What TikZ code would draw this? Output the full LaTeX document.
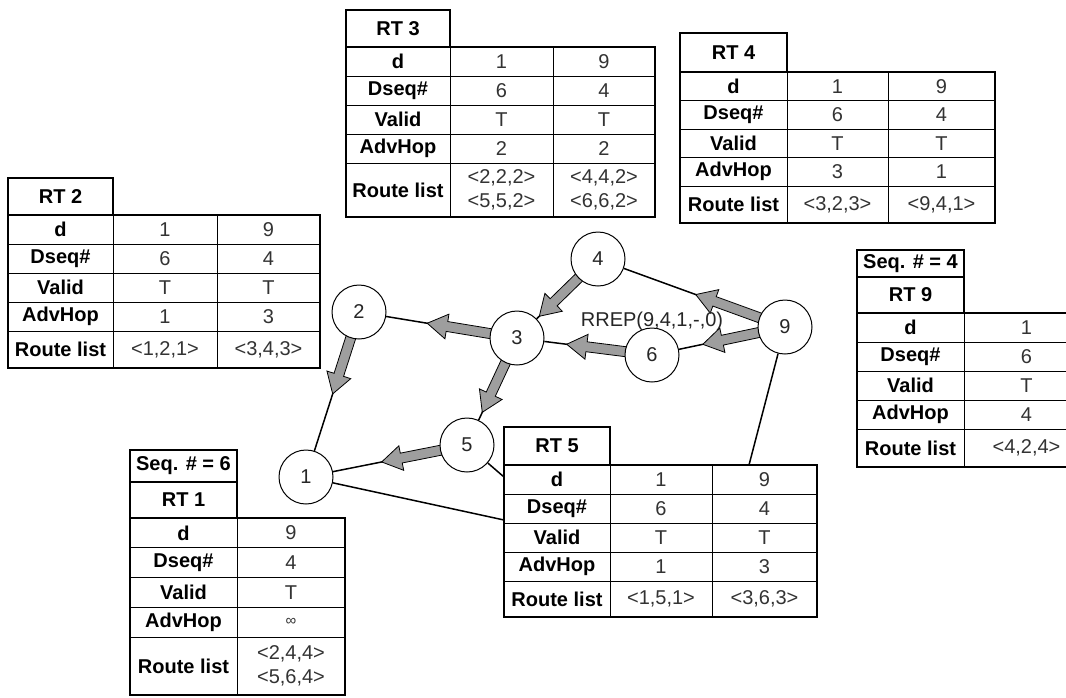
\documentclass[tikz,border=0pt]{standalone}
\usepackage{fontspec}
\setmainfont{Liberation Sans}
\usetikzlibrary{calc}
\pgfdeclarelayer{bg}
\pgfsetlayers{bg,main}
\newcommand{\rtfont}{\fontsize{20}{24}\selectfont}

\tikzset{
  cellb/.style={draw=black, line width=0.9pt, fill=white, inner sep=0pt, outer sep=0pt,
    anchor=north west, align=center, font=\rtfont\bfseries, text=black},
  cellv/.style={draw=black, line width=0.9pt, fill=white, inner sep=0pt, outer sep=0pt,
    anchor=north west, align=center, font=\rtfont, text=black!80},
  frame/.style={draw=black, line width=1.8pt},
  hdr/.style={draw=black, line width=1.8pt, fill=white, inner sep=0pt, outer sep=0pt,
    anchor=north west, font=\rtfont\bfseries},
  station/.style={circle, draw=black, line width=1pt, fill=white, minimum size=54pt,
    inner sep=0pt, font=\rtfont, text=black!85},
  link/.style={draw=black, line width=1.5pt},
  flowarrow/.style={fill=black!38, draw=black, line width=0.8pt, line join=miter},
}

\newcommand{\rtrowtwo}[6]{%
  \node[cellb, minimum width=\wA pt, minimum height=#3 pt] (#1l) at (#2) {#4};
  \node[cellv, minimum width=\wB pt, minimum height=#3 pt] (#1a) at (#1l.north east) {#5};
  \node[cellv, minimum width=\wC pt, minimum height=#3 pt] (#1b) at (#1a.north east) {#6};
}
\newcommand{\rtrowone}[5]{%
  \node[cellb, minimum width=\wA pt, minimum height=#3 pt] (#1l) at (#2) {#4};
  \node[cellv, minimum width=\wB pt, minimum height=#3 pt] (#1a) at (#1l.north east) {#5};
}
\newcommand{\flow}[3]{%
  \coordinate (fs) at ($(#1.center)!24pt!(#2.center)$);
  \coordinate (ft) at ($(#1.center)!#3pt!(#2.center)$);
  \coordinate (fh) at ($(ft)!20pt!(fs)$);
  \path[flowarrow] ($(fs)!5pt!90:(ft)$) -- ($(fh)!5pt!90:(ft)$) -- ($(fh)!12.5pt!90:(ft)$)
    -- (ft) -- ($(fh)!12.5pt!-90:(ft)$) -- ($(fh)!5pt!-90:(ft)$) -- ($(fs)!5pt!-90:(ft)$) -- cycle;
}

\begin{document}
\begin{tikzpicture}[x=1pt, y=-1pt, font=\rtfont]
\useasboundingbox (0,0) rectangle (1066,697);
\clip (0,0) rectangle (1066,697);

% ---------- network nodes ----------
\node[station] (n1) at (306,477) {1};
\node[station] (n2) at (359,312) {2};
\node[station] (n3) at (517,338) {3};
\node[station] (n4) at (598,259) {4};
\node[station] (n5) at (467,445) {5};
\node[station] (n6) at (652,355) {6};
\node[station] (n9) at (785,327) {9};

\coordinate (c1) at (504,520);
\coordinate (c5) at (504,477);
\coordinate (c9) at (749,465);

\begin{pgfonlayer}{bg}
  \fill[white] (0,0) rectangle (1066,697);
  \draw[link] (n2) -- (n3);
  \draw[link] (n2) -- (n1);
  \draw[link] (n3) -- (n5);
  \draw[link] (n5) -- (n1);
  \draw[link] (n3) -- (n4);
  \draw[link] (n3) -- (n6);
  \draw[link] (n6) -- (n9);
  \draw[link] (n4) -- (n9);
  \draw[link] (n1) -- (c1);
  \draw[link] (n5) -- (c5);
  \draw[link] (n9) -- (c9);
  \flow{n3}{n2}{91}
  \flow{n2}{n1}{86}
  \flow{n3}{n5}{82}
  \flow{n5}{n1}{87}
  \flow{n4}{n3}{82}
  \flow{n6}{n3}{86}
  \flow{n9}{n4}{95}
  \flow{n9}{n6}{84}
\end{pgfonlayer}

\node[anchor=base, text=black!85] (rrep) at (652,326) {RREP(9,4,1,-,0)};

% ---------- RT 3 ----------
\def\wA{104}\def\wB{103}\def\wC{102}
\node[hdr, minimum width=104pt, minimum height=37pt] (rt3h) at (346,10) {RT 3};
\rtrowtwo{rt3d}{346,47}{29}{d}{1}{9}
\rtrowtwo{rt3s}{rt3dl.south west}{29}{Dseq\#}{6}{4}
\rtrowtwo{rt3v}{rt3sl.south west}{29}{Valid}{T}{T}
\rtrowtwo{rt3a}{rt3vl.south west}{29}{AdvHop}{2}{2}
\rtrowtwo{rt3r}{rt3al.south west}{54}{Route list}{<2,2,2>\\<5,5,2>}{<4,4,2>\\<6,6,2>}
\draw[frame] (rt3dl.north west) rectangle (rt3rb.south east);

% ---------- RT 4 ----------
\def\wA{107}\def\wB{101}\def\wC{107}
\node[hdr, minimum width=107pt, minimum height=39pt] (rt4h) at (680,33) {RT 4};
\rtrowtwo{rt4d}{680,72}{28.5}{d}{1}{9}
\rtrowtwo{rt4s}{rt4dl.south west}{28.5}{Dseq\#}{6}{4}
\rtrowtwo{rt4v}{rt4sl.south west}{28.5}{Valid}{T}{T}
\rtrowtwo{rt4a}{rt4vl.south west}{28.5}{AdvHop}{3}{1}
\rtrowtwo{rt4r}{rt4al.south west}{37}{Route list}{<3,2,3>}{<9,4,1>}
\draw[frame] (rt4dl.north west) rectangle (rt4rb.south east);

% ---------- RT 2 ----------
\def\wA{105}\def\wB{104}\def\wC{103}
\node[hdr, minimum width=105pt, minimum height=37pt] (rt2h) at (8,178) {RT 2};
\rtrowtwo{rt2d}{8,215}{29}{d}{1}{9}
\rtrowtwo{rt2s}{rt2dl.south west}{29}{Dseq\#}{6}{4}
\rtrowtwo{rt2v}{rt2sl.south west}{29}{Valid}{T}{T}
\rtrowtwo{rt2a}{rt2vl.south west}{29}{AdvHop}{1}{3}
\rtrowtwo{rt2r}{rt2al.south west}{37}{Route list}{<1,2,1>}{<3,4,3>}
\draw[frame] (rt2dl.north west) rectangle (rt2rb.south east);

% ---------- RT 9 ----------
\def\wA{107}\def\wB{125}
\node[hdr, minimum width=107pt, minimum height=27pt] (sq9) at (857,250) {Seq. \# = 4};
\node[hdr, minimum width=107pt, minimum height=36pt] (rt9h) at (857,277) {RT 9};
\rtrowone{rt9d}{857,313}{29}{d}{1}
\rtrowone{rt9s}{rt9dl.south west}{29}{Dseq\#}{6}
\rtrowone{rt9v}{rt9sl.south west}{29}{Valid}{T}
\rtrowone{rt9a}{rt9vl.south west}{29}{AdvHop}{4}
\rtrowone{rt9r}{rt9al.south west}{38}{Route list}{<4,2,4>}
\draw[frame] (rt9dl.north west) rectangle (rt9ra.south east);

% ---------- RT 1 ----------
\def\wA{107}\def\wB{108}
\node[hdr, minimum width=107pt, minimum height=32pt] (sq1) at (130,450) {Seq. \# = 6};
\node[hdr, minimum width=107pt, minimum height=36pt] (rt1h) at (130,482) {RT 1};
\rtrowone{rt1d}{130,518}{29.75}{d}{9}
\rtrowone{rt1s}{rt1dl.south west}{29.75}{Dseq\#}{4}
\rtrowone{rt1v}{rt1sl.south west}{29.75}{Valid}{T}
\rtrowone{rt1a}{rt1vl.south west}{29.75}{AdvHop}{\fontsize{15}{18}\selectfont ∞}
\rtrowone{rt1r}{rt1al.south west}{58}{Route list}{<2,4,4>\\<5,6,4>}
\draw[frame] (rt1dl.north west) rectangle (rt1ra.south east);

% ---------- RT 5 ----------
\def\wA{106}\def\wB{102}\def\wC{105}
\node[hdr, minimum width=106pt, minimum height=38pt] (rt5h) at (504,427) {RT 5};
\rtrowtwo{rt5d}{504,465}{29}{d}{1}{9}
\rtrowtwo{rt5s}{rt5dl.south west}{29}{Dseq\#}{6}{4}
\rtrowtwo{rt5v}{rt5sl.south west}{29}{Valid}{T}{T}
\rtrowtwo{rt5a}{rt5vl.south west}{29}{AdvHop}{1}{3}
\rtrowtwo{rt5r}{rt5al.south west}{36}{Route list}{<1,5,1>}{<3,6,3>}
\draw[frame] (rt5dl.north west) rectangle (rt5rb.south east);
\end{tikzpicture}
\end{document}
